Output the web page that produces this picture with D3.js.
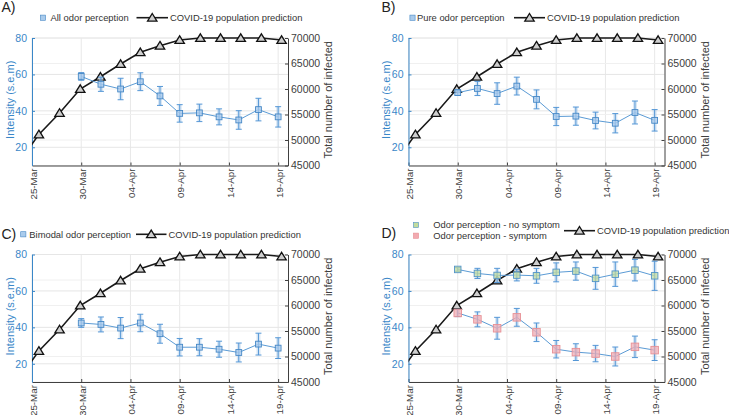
<!DOCTYPE html>
<html>
<head>
<meta charset="utf-8">
<script src="https://cdn.jsdelivr.net/npm/d3@7"></script>
<style>
  body { margin: 0; background: #fff; }
  text { font-family: "Liberation Sans", Arial, sans-serif; }
</style>
</head>
<body>
<div class="chart"></div>
<script>
// odor intensity data, every 2 days from 30-Mar to 19-Apr
var odorDates = ["2020-03-30", "2020-04-01", "2020-04-03", "2020-04-05", "2020-04-07", "2020-04-09",
                 "2020-04-11", "2020-04-13", "2020-04-15", "2020-04-17", "2020-04-19"];

var allOdor = [58.9, 54.6, 52.0, 56.0, 48.2, 38.6, 38.9, 36.7, 35.0, 40.7, 36.7];
var allOdorErr = [2.1, 3.9, 5.9, 4.9, 5.2, 4.8, 4.8, 4.4, 5.1, 6.2, 5.6];

var pureOdor = [50.0, 52.3, 49.5, 53.6, 46.3, 36.9, 37.1, 34.7, 33.2, 39.1, 34.8];
var pureOdorErr = [1.5, 3.9, 5.9, 4.9, 5.2, 5.0, 5.0, 4.6, 5.3, 6.3, 5.9];

var bimodalOdor = [42.4, 41.6, 39.6, 42.4, 36.5, 29.1, 29.1, 28.0, 26.2, 30.8, 28.6];
var bimodalOdorErr = [2.4, 4.1, 5.8, 4.8, 5.2, 4.8, 4.7, 4.4, 5.2, 6.0, 5.7];

var noSymptom = [71.8, 69.6, 68.5, 68.7, 68.3, 70.2, 70.9, 66.9, 69.2, 71.4, 68.3];
var noSymptomErr = [1.0, 2.8, 3.9, 3.2, 4.1, 5.2, 5.0, 6.0, 6.7, 5.9, 8.0];

var symptom = [47.9, 44.4, 39.5, 45.5, 37.3, 28.0, 26.4, 25.6, 24.0, 29.3, 27.5];
var symptomErr = [2.0, 4.1, 6.0, 4.9, 5.1, 4.8, 4.6, 4.5, 5.2, 5.9, 5.7];

// COVID-19 prediction: days after 25-Mar (first point lies left of the axis and is clipped)
var covidDay = [-1.3, 0.7, 2.8, 4.9, 6.95, 9.0, 11.0, 13.0, 15.0, 17.1, 19.15, 21.2, 23.3, 25.35];
var covidCases = [45600, 51100, 55300, 60000, 62400, 64900, 67200, 68500, 69600, 70000, 70000, 70000, 70000, 69600];

// axis ticks
var dateTicks = ["2020-03-25", "2020-03-30", "2020-04-04", "2020-04-09", "2020-04-14", "2020-04-19"];
var leftTicks = [20, 40, 60, 80];
var rightTicks = [45000, 50000, 55000, 60000, 65000, 70000];

var svgWidth = 729;
var svgHeight = 415;
var width = 256;
var height = 127.5;

var blueAxis = "#3a87c8";
var grayAxis = "#404040";

var parseDate = d3.timeParse("%Y-%m-%d");
var startDate = parseDate("2020-03-25");

var svg = d3.select(".chart")
    .append("svg")
    .attr("width", svgWidth)
    .attr("height", svgHeight);

var triPath = "M0,-4.2L4.7,3.4L-4.7,3.4Z";

var styles = {
    blue: { fill: "#a9cbec", stroke: "#4688c6", size: 5.8 },
    green: { fill: "#c2dc9c", stroke: "#5294c8", size: 6.5 },
    red: { fill: "#f2aab0", stroke: "#e79095", size: 7.5 }
};

function drawPanel(p, idx) {
    var g = svg.append("g")
        .attr("transform", `translate(${p.left}, ${p.top})`);

    var xScale = d3.scaleTime()
        .domain([startDate, parseDate("2020-04-20")])
        .range([0, width]);
    var yLeft = d3.scaleLinear().domain([10, 80]).range([height, 0]);
    var yRight = d3.scaleLinear().domain([45000, 70000]).range([height, 0]);

    // grid
    g.selectAll(".vgrid")
        .data(dateTicks.map(parseDate))
        .enter()
        .append("line")
        .attr("x1", d => xScale(d)).attr("x2", d => xScale(d))
        .attr("y1", 0).attr("y2", height)
        .attr("stroke", "#e8e8e8");
    g.selectAll(".rgrid")
        .data(rightTicks)
        .enter()
        .append("line")
        .attr("x1", 0).attr("x2", width)
        .attr("y1", d => yRight(d)).attr("y2", d => yRight(d))
        .attr("stroke", "#f0f0f0");
    g.selectAll(".lgrid")
        .data(leftTicks)
        .enter()
        .append("line")
        .attr("x1", 0).attr("x2", width)
        .attr("y1", d => yLeft(d)).attr("y2", d => yLeft(d))
        .attr("stroke", "#e6e6e6");

    // axes
    var bottomAxis = g.append("g")
        .attr("transform", `translate(0, ${height})`)
        .call(d3.axisBottom(xScale)
            .tickValues(dateTicks.map(parseDate))
            .tickFormat(d3.timeFormat("%d-%b"))
            .tickSize(-3)
            .tickSizeOuter(0));
    bottomAxis.select(".domain").attr("stroke", grayAxis);
    bottomAxis.selectAll(".tick line").attr("stroke", grayAxis);
    bottomAxis.selectAll("text")
        .attr("transform", "rotate(-90)")
        .attr("text-anchor", "end")
        .attr("x", -3)
        .attr("y", 0)
        .attr("dy", "0.42em")
        .attr("fill", grayAxis)
        .attr("font-size", 9.8);

    var leftAxis = g.append("g")
        .call(d3.axisLeft(yLeft).tickValues(leftTicks).tickSize(-3).tickSizeOuter(0).tickPadding(5));
    leftAxis.select(".domain").attr("stroke", blueAxis);
    leftAxis.selectAll(".tick line").attr("stroke", blueAxis);
    leftAxis.selectAll("text").attr("fill", blueAxis).attr("font-size", 10.5);

    var rightAxis = g.append("g")
        .attr("transform", `translate(${width}, 0)`)
        .call(d3.axisRight(yRight).tickValues(rightTicks).tickSize(-3).tickSizeOuter(0)
            .tickPadding(3).tickFormat(d3.format("d")));
    rightAxis.select(".domain").attr("stroke", grayAxis);
    rightAxis.selectAll(".tick line").attr("stroke", grayAxis);
    rightAxis.selectAll("text").attr("fill", grayAxis).attr("font-size", 10.5);

    // axis labels
    g.append("text")
        .attr("transform", `translate(${-18.5}, ${height / 2 - 2}) rotate(-90)`)
        .attr("text-anchor", "middle")
        .attr("fill", blueAxis)
        .attr("font-size", 11)
        .text("Intensity (s.e.m)");
    g.append("text")
        .attr("transform", `translate(${width + 44}, ${height / 2 - 2}) rotate(-90)`)
        .attr("text-anchor", "middle")
        .attr("fill", grayAxis)
        .attr("font-size", 11)
        .text("Total number of infected");

    // covid line, clipped at the left axis
    var clipId = "clip" + idx;
    g.append("clipPath").attr("id", clipId)
        .append("rect")
        .attr("x", 0).attr("y", -20)
        .attr("width", width).attr("height", height + 20);

    var covidData = covidDay.map((d, i) => ({
        date: new Date(startDate.getTime() + d * 864e5),
        cases: covidCases[i]
    }));

    var covidLine = d3.line()
        .x(d => xScale(d.date))
        .y(d => yRight(d.cases));

    g.append("path")
        .datum(covidData)
        .attr("clip-path", `url(#${clipId})`)
        .attr("d", covidLine)
        .attr("fill", "none")
        .attr("stroke", "#1a1a1a")
        .attr("stroke-width", 1.6);

    g.selectAll(".tri")
        .data(covidData.filter(d => d.date >= startDate))
        .enter()
        .append("path")
        .attr("d", triPath)
        .attr("transform", d => `translate(${xScale(d.date)}, ${yRight(d.cases)})`)
        .attr("fill", "#cfcfcf")
        .attr("stroke", "#111")
        .attr("stroke-width", 1.3);

    // odor series
    p.series.forEach(function (s) {
        var st = styles[s.style];
        var data = odorDates.map((d, i) => ({ date: parseDate(d), mean: s.mean[i], err: s.err[i] }));

        var line = d3.line()
            .x(d => xScale(d.date))
            .y(d => yLeft(d.mean));

        g.append("path")
            .datum(data)
            .attr("d", line)
            .attr("fill", "none")
            .attr("stroke", "#5b9bd5")
            .attr("stroke-width", 1);

        var bars = g.append("g").selectAll("g")
            .data(data)
            .enter()
            .append("g")
            .attr("transform", d => `translate(${xScale(d.date)}, 0)`);

        bars.append("rect")
            .attr("x", -2)
            .attr("width", 4)
            .attr("y", d => yLeft(d.mean + d.err))
            .attr("height", d => yLeft(d.mean - d.err) - yLeft(d.mean + d.err))
            .attr("fill", "#b3d0ec")
            .attr("opacity", 0.5);

        bars.append("line")
            .attr("x1", 0).attr("x2", 0)
            .attr("y1", d => yLeft(d.mean + d.err))
            .attr("y2", d => yLeft(d.mean - d.err))
            .attr("stroke", "#5597d6")
            .attr("stroke-width", 1);

        [1, -1].forEach(function (sign) {
            bars.append("line")
                .attr("x1", -3).attr("x2", 3)
                .attr("y1", d => yLeft(d.mean + sign * d.err))
                .attr("y2", d => yLeft(d.mean + sign * d.err))
                .attr("stroke", "#5597d6")
                .attr("stroke-width", 1);
        });

        bars.append("rect")
            .attr("x", -st.size / 2)
            .attr("y", d => yLeft(d.mean) - st.size / 2)
            .attr("width", st.size)
            .attr("height", st.size)
            .attr("fill", st.fill)
            .attr("fill-opacity", 0.7)
            .attr("stroke", st.stroke)
            .attr("stroke-width", 0.9);
    });

    // panel letter
    svg.append("text")
        .attr("x", p.letterX)
        .attr("y", p.letterY)
        .attr("font-size", 14)
        .attr("fill", "#222")
        .text(p.letter);

    // legend
    p.legend.forEach(function (l) {
        var st = styles[l.style];
        svg.append("rect")
            .attr("x", l.mx - 2.6).attr("y", l.y - 2.6)
            .attr("width", 5.2).attr("height", 5.2)
            .attr("fill", st.fill)
            .attr("stroke", st.stroke)
            .attr("stroke-width", 0.6);
        svg.append("text")
            .attr("x", l.tx)
            .attr("y", l.y)
            .attr("dy", "0.35em")
            .attr("font-size", 9.4)
            .attr("fill", "#333")
            .text(l.label);
    });

    var c = p.covidLegend;
    svg.append("line")
        .attr("x1", c.x1).attr("x2", c.x2)
        .attr("y1", c.y).attr("y2", c.y)
        .attr("stroke", "#1a1a1a")
        .attr("stroke-width", 1.6);
    svg.append("path")
        .attr("d", triPath)
        .attr("transform", `translate(${(c.x1 + c.x2) / 2}, ${c.y})`)
        .attr("fill", "#cfcfcf")
        .attr("stroke", "#111")
        .attr("stroke-width", 1.3);
    svg.append("text")
        .attr("x", c.x2 + 2)
        .attr("y", c.y)
        .attr("dy", "0.35em")
        .attr("font-size", 9.4)
        .attr("fill", "#333")
        .text("COVID-19 population prediction");
}

var panels = [
    {
        letter: "A)", letterX: 1.5, letterY: 12, left: 32, top: 38,
        series: [{ mean: allOdor, err: allOdorErr, style: "blue" }],
        legend: [{ label: "All odor perception", style: "blue", mx: 43, tx: 50.5, y: 17.7 }],
        covidLegend: { x1: 136.5, x2: 168, y: 17.7 }
    },
    {
        letter: "B)", letterX: 381.5, letterY: 12, left: 408.5, top: 38,
        series: [{ mean: pureOdor, err: pureOdorErr, style: "blue" }],
        legend: [{ label: "Pure odor perception", style: "blue", mx: 412.5, tx: 417, y: 17.7 }],
        covidLegend: { x1: 514, x2: 545, y: 17.7 }
    },
    {
        letter: "C)", letterX: 1.5, letterY: 238.5, left: 32, top: 254.5,
        series: [{ mean: bimodalOdor, err: bimodalOdorErr, style: "blue" }],
        legend: [{ label: "Bimodal odor perception", style: "blue", mx: 23.3, tx: 29.3, y: 234.3 }],
        covidLegend: { x1: 136, x2: 166.5, y: 234.3 }
    },
    {
        letter: "D)", letterX: 381.5, letterY: 238, left: 408.5, top: 254.5,
        series: [
            { mean: noSymptom, err: noSymptomErr, style: "green" },
            { mean: symptom, err: symptomErr, style: "red" }
        ],
        legend: [
            { label: "Odor perception - no symptom", style: "green", mx: 416, tx: 433.3, y: 225 },
            { label: "Odor perception - symptom", style: "red", mx: 416, tx: 433.3, y: 235.7 }
        ],
        covidLegend: { x1: 564, x2: 595, y: 230.7 }
    }
];

panels.forEach(drawPanel);
</script>
</body>
</html>
